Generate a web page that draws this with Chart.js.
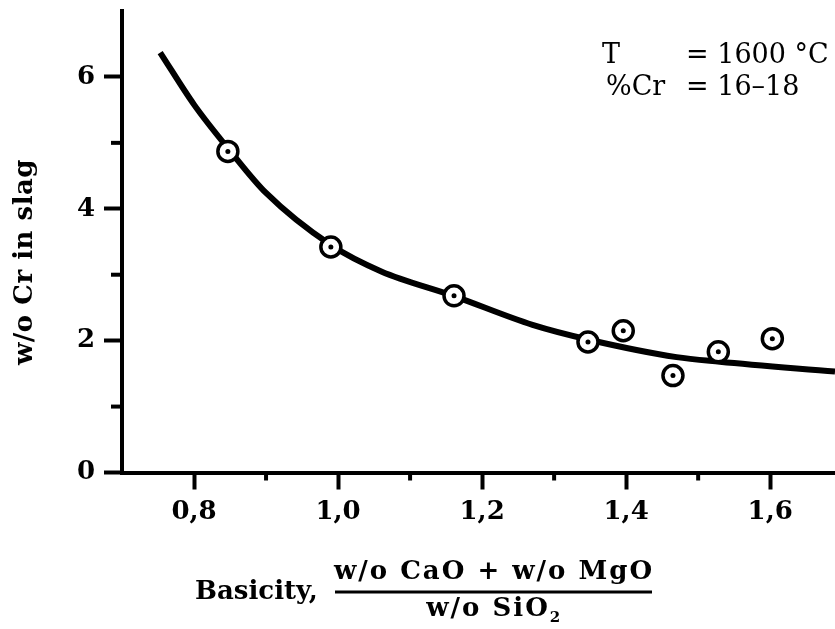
<!DOCTYPE html>
<html>
<head>
<meta charset="utf-8">
<title>Cr in slag vs basicity</title>
<script src="https://cdn.jsdelivr.net/npm/chart.js@4.4.1/dist/chart.umd.min.js"></script>
<style>
  html, body { margin: 0; padding: 0; background: #fff; }
  #box { width: 835px; height: 629px; }
</style>
</head>
<body>
<div id="box"><canvas id="chart"></canvas></div>
<script>
// measured points (basicity, w/o Cr in slag)
var basicity = [0.847, 0.990, 1.161, 1.347, 1.396, 1.465, 1.528, 1.603];
var crSlag   = [4.87, 3.42, 2.68, 1.98, 2.15, 1.47, 1.83, 2.03];

// hand drawn trend line
var curveX = [0.753, 0.80, 0.85, 0.90, 0.99, 1.06, 1.16, 1.27, 1.35, 1.47, 1.53, 1.69];
var curveY = [6.37, 5.58, 4.88, 4.24, 3.45, 3.05, 2.68, 2.24, 2.01, 1.75, 1.68, 1.53];

var xTicks = [0.8, 1.0, 1.2, 1.4, 1.6];
var xMinor = [0.9, 1.1, 1.3, 1.5];
var yTicks = [0, 2, 4, 6];
var yMinor = [1, 3, 5];

var serif = "'DejaVu Serif', 'Liberation Serif', serif";

function toPts(xs, ys) {
  var out = [];
  for (var i = 0; i < xs.length; i++) out.push({x: xs[i], y: ys[i]});
  return out;
}

// minor ticks, axis titles and the T / %Cr note
var extras = {
  id: 'extras',
  afterDraw: function(chart) {
    var ctx = chart.ctx;
    var xs = chart.scales.x, ys = chart.scales.y;
    var a = chart.chartArea;
    ctx.save();
    ctx.strokeStyle = '#000';
    ctx.lineWidth = 4;
    ctx.lineCap = 'butt';
    xMinor.forEach(function(v) {
      var px = xs.getPixelForValue(v);
      ctx.beginPath(); ctx.moveTo(px, a.bottom); ctx.lineTo(px, a.bottom + 8); ctx.stroke();
    });
    yMinor.forEach(function(v) {
      var py = ys.getPixelForValue(v);
      ctx.beginPath(); ctx.moveTo(a.left, py); ctx.lineTo(a.left - 11, py); ctx.stroke();
    });

    ctx.fillStyle = '#000';
    ctx.textBaseline = 'alphabetic';

    // y title
    ctx.save();
    ctx.translate(32, 262);
    ctx.rotate(-Math.PI / 2);
    ctx.font = 'bold 26px ' + serif;
    ctx.textAlign = 'center';
    ctx.letterSpacing = '0.5px';
    ctx.fillText('w/o Cr in slag', 0, 0);
    ctx.restore();

    // x title with the fraction
    ctx.font = 'bold 26px ' + serif;
    ctx.textAlign = 'left';
    ctx.fillText('Basicity,', 195, 599);
    ctx.letterSpacing = '2px';
    ctx.textAlign = 'center';
    ctx.fillText('w/o CaO + w/o MgO', 494, 579);
    ctx.lineWidth = 3;
    ctx.beginPath(); ctx.moveTo(335, 592); ctx.lineTo(652, 592); ctx.stroke();
    var den = 'w/o SiO';
    var dw = ctx.measureText(den).width;
    ctx.textAlign = 'left';
    ctx.fillText(den, 494 - dw / 2 - 6, 616);
    ctx.letterSpacing = '0px';
    ctx.font = 'bold 15px ' + serif;
    ctx.fillText('2', 494 + dw / 2 - 6, 622);

    // note top right
    ctx.font = '27px ' + serif;
    ctx.textAlign = 'left';
    ctx.fillText('T', 602, 63);
    ctx.fillText('= 1600 °C', 686, 63);
    ctx.fillText('%Cr', 606, 95);
    ctx.fillText('= 16–18', 686, 95);
    ctx.restore();
  }
};

function noPad(s) {
  s.paddingTop = 0; s.paddingBottom = 0;
  s.paddingLeft = 0; s.paddingRight = 0;
}

new Chart('chart', {
  type: 'scatter',
  data: {
    datasets: [
      { // centre dots
        data: toPts(basicity, crSlag),
        pointRadius: 2.5, pointHoverRadius: 2.5,
        pointBackgroundColor: '#000', pointBorderWidth: 0,
        order: 0
      },
      { // open rings
        data: toPts(basicity, crSlag),
        pointRadius: 10, pointHoverRadius: 10,
        pointBackgroundColor: '#fff', pointBorderColor: '#000', pointBorderWidth: 3.5,
        order: 1
      },
      { // trend curve
        data: toPts(curveX, curveY),
        showLine: true,
        borderColor: '#000', borderWidth: 6,
        cubicInterpolationMode: 'monotone',
        pointRadius: 0,
        order: 2
      }
    ]
  },
  options: {
    responsive: true,
    maintainAspectRatio: false,
    animation: false,
    layout: { autoPadding: false, padding: { top: 11, right: 0, left: 0, bottom: 0 } },
    plugins: { legend: { display: false }, tooltip: { enabled: false } },
    scales: {
      x: {
        type: 'linear', min: 0.7, max: 1.69,
        afterFit: function(s) { s.height = 156.5; noPad(s); },
        afterBuildTicks: function(s) { s.ticks = xTicks.map(function(v) { return {value: v}; }); },
        border: { color: '#000', width: 4 },
        grid: { drawOnChartArea: false, drawTicks: true, tickLength: 17, tickWidth: 4, tickColor: '#000' },
        ticks: {
          color: '#000', padding: 7,
          font: { family: serif, size: 26, weight: 'bold' },
          callback: function(v) { return v.toFixed(1).replace('.', ','); }
        }
      },
      y: {
        type: 'linear', min: 0, max: 7,
        afterFit: function(s) { s.width = 122; noPad(s); },
        afterBuildTicks: function(s) { s.ticks = yTicks.map(function(v) { return {value: v}; }); },
        border: { color: '#000', width: 4 },
        grid: { drawOnChartArea: false, drawTicks: true, tickLength: 18, tickWidth: 4, tickColor: '#000' },
        ticks: {
          color: '#000', padding: 9,
          font: { family: serif, size: 26, weight: 'bold' }
        }
      }
    }
  },
  plugins: [extras]
});
</script>
</body>
</html>
